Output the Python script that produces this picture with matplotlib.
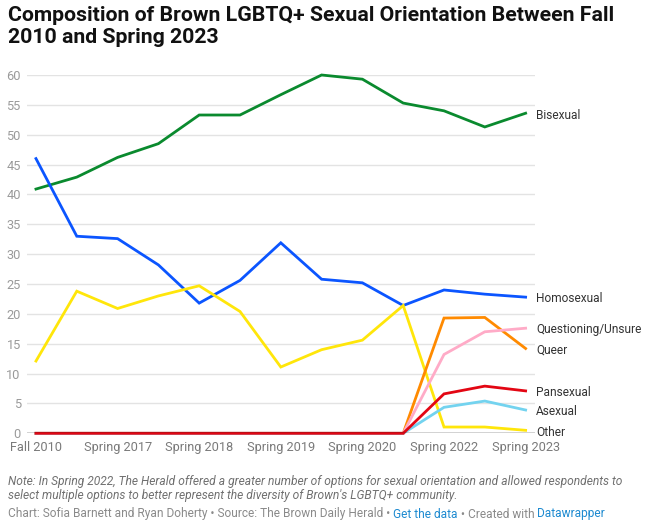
import matplotlib
matplotlib.use("Agg")
import matplotlib.pyplot as plt
import matplotlib.transforms as mtransforms

plt.rcParams['font.family'] = ['Roboto', 'DejaVu Sans']

# ---- data ----
periods = ["Fall 2010", "Spring 2016", "Spring 2017", "Fall 2017", "Spring 2018", "Fall 2018",
           "Spring 2019", "Fall 2019", "Spring 2020", "Fall 2020", "Spring 2022", "Fall 2022",
           "Spring 2023"]
tick_labels = ["Fall 2010", "Spring 2017", "Spring 2018", "Spring 2019", "Spring 2020",
               "Spring 2022", "Spring 2023"]

bisexual = [40.9, 42.9, 46.2, 48.5, 53.3, 53.3, 56.7, 60.0, 59.3, 55.3, 54.0, 51.3, 53.6]
homosexual = [46.0, 33.0, 32.6, 28.2, 21.8, 25.6, 31.9, 25.8, 25.2, 21.4, 24.0, 23.3, 22.8]
other = [12.1, 23.8, 20.9, 23.0, 24.7, 20.4, 11.1, 14.0, 15.6, 21.4, 1.05, 1.05, 0.5]
queer = [0, 0, 0, 0, 0, 0, 0, 0, 0, 0, 19.3, 19.4, 14.2]
questioning = [0, 0, 0, 0, 0, 0, 0, 0, 0, 0, 13.2, 17.0, 17.6]
asexual = [0, 0, 0, 0, 0, 0, 0, 0, 0, 0, 4.35, 5.4, 3.9]
pansexual = [0, 0, 0, 0, 0, 0, 0, 0, 0, 0, 6.6, 7.9, 7.1]

series_names = ["Bisexual", "Homosexual", "Other", "Queer", "Questioning/Unsure",
                "Asexual", "Pansexual"]
series_values = [bisexual, homosexual, other, queer, questioning, asexual, pansexual]
series_colors = ["#0a8a2e", "#0b55ff", "#ffe60a", "#ff8a00", "#ffabc7", "#73d3ef", "#e30613"]

# label y positions (layout, dodged to avoid overlap)
label_y = {"Bisexual": 53.3, "Homosexual": 22.5, "Questioning/Unsure": 17.3, "Queer": 14.0,
           "Pansexual": 6.8, "Asexual": 3.6, "Other": 0.1}

# ---- figure ----
W, H = 656, 529
fig = plt.figure(figsize=(W / 100, H / 100), dpi=100)
ax_left, ax_right = 27, 535
ax_top, ax_bottom = 75, 433.3
ax = fig.add_axes([ax_left / W, 1 - ax_bottom / H, (ax_right - ax_left) / W, (ax_bottom - ax_top) / H])

x = list(range(len(periods)))
ax.set_xlim(-0.22, len(periods) - 1 + 0.23)
ax.set_ylim(0, 60)

for v in range(5, 61, 5):
    ax.axhline(v, color="#e3e3e3", lw=1.0, zorder=0)
ax.axhline(0, color="#222222", lw=1.0, zorder=4)

for name, vals, col in zip(series_names, series_values, series_colors):
    ax.plot(x, vals, color=col, lw=2.0, solid_joinstyle="miter", zorder=3, clip_on=False)

for s in ax.spines.values():
    s.set_visible(False)

ax.set_yticks(range(0, 61, 5))
ax.set_yticklabels([str(v) for v in range(0, 61, 5)])
tick_pos = [periods.index(t) for t in tick_labels]
ax.set_xticks(tick_pos)
ax.set_xticklabels(tick_labels)
ax.tick_params(axis="y", length=0, pad=4.5, labelsize=9.2, labelcolor="#9a9a9a")
ax.tick_params(axis="x", length=0, pad=5.5, labelsize=9.2, labelcolor="#7a7a7a")

# line labels
trans = mtransforms.blended_transform_factory(ax.transAxes, ax.transData)
for name in series_names:
    ax.text(1.0 + 1 / (ax_right - ax_left), label_y[name], name, transform=trans,
            ha="left", va="center", fontsize=8.6, color="#333333", clip_on=False)

# title
fig.text(8 / W, 1 - 6 / H,
         "Composition of Brown LGBTQ+ Sexual Orientation Between Fall\n2010 and Spring 2023",
         ha="left", va="top", fontsize=15.3, fontweight="bold", color="#111111", linespacing=1.2)

# note
fig.text(8 / W, 1 - 481 / H,
         "Note: In Spring 2022, The Herald offered a greater number of options for sexual orientation and allowed respondents to",
         ha="left", va="center", fontsize=8.67, style="italic", color="#707070")
fig.text(8 / W, 1 - 495 / H,
         "select multiple options to better represent the diversity of Brown's LGBTQ+ community.",
         ha="left", va="center", fontsize=8.67, style="italic", color="#707070")

# footer with mixed colours
parts = [("Chart: Sofia Barnett and Ryan Doherty \u2022 Source: The Brown Daily Herald \u2022 ", "#8a8a8a"),
         ("Get the data", "#1d8ad0"),
         (" \u2022 Created with ", "#8a8a8a"),
         ("Datawrapper", "#1d8ad0")]
fig.canvas.draw()
renderer = fig.canvas.get_renderer()
xpos = 8
for txt, col in parts:
    t = fig.text(xpos / W, 1 - 514 / H, txt, ha="left", va="center", fontsize=8.6, color=col)
    bb = t.get_window_extent(renderer=renderer)
    xpos += bb.width

fig.savefig("out.png", dpi=100)
